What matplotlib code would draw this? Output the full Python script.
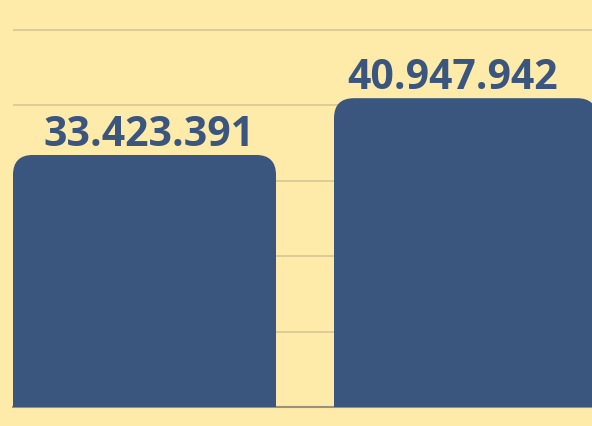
import matplotlib
matplotlib.use('Agg')
from matplotlib import pyplot as plt
from matplotlib.patches import FancyBboxPatch

CATEGORIES = ['A', 'B']
VALUES = [33423391, 40947942]
LABELS = ['33.423.391', '40.947.942']

BG = '#FFEBA9'
BAR = '#3A567E'
GRID = '#D6C894'
BASE = '#9A9278'

Y_MAX = 54_100_000
BAR_WIDTH = 0.8193
RADIUS_PX = 20
AX_W_PX = 584  # second bar runs past the right edge of the figure
AX_H_PX = 408

# small horizontal nudges of the value labels, in points
LABEL_NUDGE = [3.6, -9.4]

fig = plt.figure(figsize=(5.92, 4.27), dpi=100, facecolor=BG)
ax = fig.add_axes([13 / 592, 19 / 427, AX_W_PX / 592, AX_H_PX / 427])
ax.set_facecolor(BG)

x = list(range(len(VALUES)))
bars = ax.bar(x, VALUES, width=BAR_WIDTH, color=BAR, zorder=3)
ax.set_xlim(-BAR_WIDTH / 2, len(VALUES) - 1 + BAR_WIDTH / 2)
ax.set_ylim(0, Y_MAX)

# round the top corners: clip each bar with a rounded box
x_span = len(VALUES) - 1 + BAR_WIDTH
rx = RADIUS_PX * x_span / AX_W_PX
ry = RADIUS_PX * Y_MAX / AX_H_PX
for b in bars:
    clip = FancyBboxPatch((b.get_x(), -2 * ry), b.get_width(), b.get_height() + 2 * ry,
                          boxstyle=f'round,pad=0,rounding_size={rx}',
                          mutation_aspect=ry / rx, transform=ax.transData,
                          facecolor='none', edgecolor='none')
    b.set_clip_path(clip)

for b, label, dx in zip(bars, LABELS, LABEL_NUDGE):
    ax.annotate(label, (b.get_x() + b.get_width() / 2, b.get_height()),
                xytext=(dx, 7), textcoords='offset points',
                ha='center', va='baseline', fontsize=29.5, fontweight='bold',
                family='Open Sans', color=BAR, zorder=4, annotation_clip=False)

ax.set_yticks([10_000_000 * i for i in range(1, 6)])
ax.yaxis.grid(True, color=GRID, linewidth=1.2, zorder=0)
ax.tick_params(left=False, bottom=False, labelleft=False, labelbottom=False)
for side in ['top', 'right', 'left']:
    ax.spines[side].set_visible(False)
ax.spines['bottom'].set_color(BASE)
ax.spines['bottom'].set_linewidth(1.5)
ax.spines['bottom'].set_zorder(2)

fig.savefig('out.png', dpi=100, facecolor=BG)
